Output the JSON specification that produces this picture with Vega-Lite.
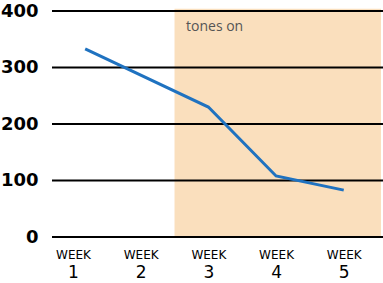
{
  "$schema": "https://vega.github.io/schema/vega-lite/v6.json",
  "width": 331,
  "height": 226,
  "autosize": "none",
  "padding": {"left": 52, "top": 11, "right": 0, "bottom": 46},
  "background": "white",
  "config": {"view": {"stroke": null}},
  "datasets": {
    "shade": [{"start": 2.5, "end": 5.55, "low": 0, "high": 404}],
    "grid": [{"v": 0}, {"v": 100}, {"v": 200}, {"v": 300}, {"v": 400}],
    "series": [
      {"week": 1.18, "value": 333},
      {"week": 3, "value": 230},
      {"week": 4, "value": 108},
      {"week": 5, "value": 83}
    ],
    "note": [{"week": 2.67, "value": 372, "label": "tones on"}]
  },
  "layer": [
    {
      "data": {"name": "shade"},
      "mark": {"type": "rect", "color": "#FADFBD"},
      "encoding": {
        "x": {"field": "start", "type": "quantitative", "scale": {"domain": [0.69, 5.58], "nice": false, "zero": false},
          "axis": {"values": [1, 2, 3, 4, 5], "labelExpr": "'WEEK'", "labelFont": "DejaVu Sans", "labelFontSize": 12, "labelColor": "black", "labelPadding": 12, "ticks": false, "domain": false, "grid": false, "title": null, "orient": "bottom"}},
        "x2": {"field": "end"},
        "y": {"field": "low", "type": "quantitative", "scale": {"domain": [0, 400], "nice": false},
          "axis": {"values": [0, 100, 200, 300, 400], "labelFont": "DejaVu Sans", "labelFontWeight": "bold", "labelFontSize": 18, "labelColor": "black", "labelPadding": 14, "ticks": false, "domain": false, "grid": false, "title": null}},
        "y2": {"field": "high"}
      }
    },
    {
      "data": {"name": "grid"},
      "mark": {"type": "rule", "color": "black", "strokeWidth": 2},
      "encoding": {"y": {"field": "v", "type": "quantitative"}}
    },
    {
      "data": {"name": "note"},
      "mark": {"type": "text", "align": "left", "baseline": "middle", "font": "Open Sans", "fontSize": 14, "color": "#555555"},
      "encoding": {
        "x": {"field": "week", "type": "quantitative", "axis": null},
        "y": {"field": "value", "type": "quantitative"},
        "text": {"field": "label"}
      }
    },
    {
      "data": {"name": "series"},
      "mark": {"type": "line", "color": "#1F72C0", "strokeWidth": 3},
      "encoding": {
        "x": {"field": "week", "type": "quantitative",
          "axis": {"values": [1, 2, 3, 4, 5], "labelFont": "DejaVu Sans", "labelFontSize": 17, "labelColor": "black", "labelPadding": 27, "ticks": false, "domain": false, "grid": false, "title": null, "orient": "bottom"}},
        "y": {"field": "value", "type": "quantitative"}
      }
    }
  ],
  "resolve": {"axis": {"x": "independent"}}
}
